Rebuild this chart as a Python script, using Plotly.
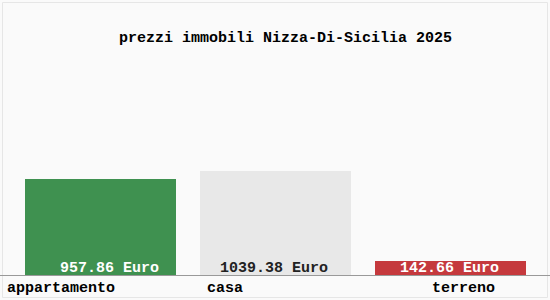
import plotly.graph_objects as go

categories = ["appartamento", "casa", "terreno"]
values = [957.86, 1039.38, 142.66]
value_labels = ["957.86 Euro", "1039.38 Euro", "142.66 Euro"]
title_text = "prezzi immobili Nizza-Di-Sicilia 2025"

bar_colors = ["#3f9150", "#e8e8e8", "#c5393d"]
text_colors = ["#ffffff", "#222222", "#ffffff"]
FONT = "Liberation Mono"
W, H = 550, 300

# pixel layout helpers (x axis spans full width, 175 px per category)
slot = 175.0
c0 = 100.5
xs = list(range(len(categories)))
xrange_ = [(0 - c0) / slot, (W - c0) / slot]

fig = go.Figure()
fig.add_trace(go.Bar(
    x=xs, y=values, width=151 / slot,
    marker=dict(color=bar_colors, line=dict(width=0)),
    hoverinfo="skip",
))

def px_to_x(px):
    return (px - c0) / slot

def font(col):
    return dict(family=FONT, size=15, color=col, weight="bold")

# value label centres (pixel) relative to bar centres
label_offsets = [8.5, -2, -1.5]
annotations = []
for i, (lab, col) in enumerate(zip(value_labels, text_colors)):
    annotations.append(dict(
        x=px_to_x(c0 + slot * i + label_offsets[i]), xref="x",
        y=(H - 268) / H, yref="paper",
        text=lab, showarrow=False, xanchor="center", yanchor="middle",
        font=font(col),
    ))

cat_left_px = [5, 205, 430]
for i, cat in enumerate(categories):
    annotations.append(dict(
        x=cat_left_px[i] / W, xref="paper",
        y=(H - 288) / H, yref="paper",
        text=cat, showarrow=False, xanchor="left", yanchor="middle",
        font=font("#000000"),
    ))

annotations.append(dict(
    x=285.5 / W, xref="paper", y=(H - 38) / H, yref="paper",
    text=title_text, showarrow=False, xanchor="center", yanchor="middle",
    font=font("#000000"),
))

fig.update_layout(
    width=W, height=H,
    margin=dict(l=0, r=0, t=0, b=0),
    paper_bgcolor="#fafafa", plot_bgcolor="#fafafa",
    showlegend=False,
    bargap=0,
    xaxis=dict(range=xrange_, showticklabels=False, showgrid=False, zeroline=False,
               showline=True, linecolor="#999999", linewidth=1, ticks="", fixedrange=True),
    yaxis=dict(range=[0, 2000], domain=[(H - 275) / H, (H - 75) / H],
               showticklabels=False, showgrid=False, zeroline=False, showline=False,
               fixedrange=True),
    annotations=annotations,
    shapes=[dict(type="rect", xref="paper", yref="paper",
                 x0=2.5 / W, x1=547.5 / W, y0=2.5 / H, y1=(H - 2.5) / H,
                 line=dict(color="#e6e6e6", width=1), layer="below")],
)

fig.write_html("out.html")
